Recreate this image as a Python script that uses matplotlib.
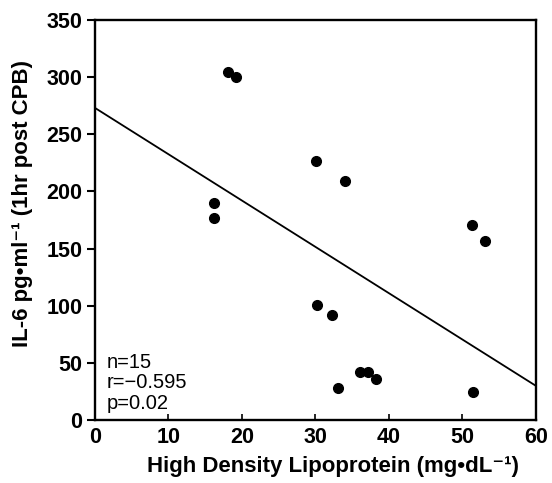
import numpy as np
import matplotlib.pyplot as plt

plt.rcParams['font.family'] = ['Liberation Sans', 'DejaVu Sans']

# HDL (mg/dL) vs IL-6 (pg/ml, 1hr post CPB)
hdl = [18.1, 19.2, 16.2, 16.2, 30.1, 34.0, 51.3, 53.1, 30.2, 32.2,
       33.1, 36.1, 37.1, 38.2, 51.4]
il6 = [304, 300, 190, 177, 227, 209, 171, 157, 101, 92,
       28, 42, 42, 36, 25]

# regression line end points
fit_x = [0, 60]
fit_y = [273, 30]

stats = ['n=15', 'r=\u22120.595', 'p=0.02']

fig = plt.figure(figsize=(5.52, 4.83), dpi=100)
ax = fig.add_axes([0.172, 0.130, 0.799, 0.829])

ax.plot(hdl, il6, 'o', color='black', ms=7, zorder=3)
ax.plot(fit_x, fit_y, color='black', lw=1.3)

ax.set_xlim(0, 60)
ax.set_ylim(0, 350)
ax.set_xticks(np.arange(0, 61, 10))
ax.set_yticks(np.arange(0, 351, 50))

for s in ax.spines.values():
    s.set_linewidth(1.7)

ax.tick_params(axis='y', direction='out', length=6, width=1.5, pad=3,
               labelsize=15.5)
ax.tick_params(axis='x', direction='in', length=4, width=1.2, pad=5,
               labelsize=15.5)
for lab in ax.get_xticklabels() + ax.get_yticklabels():
    lab.set_fontweight('bold')

ax.set_xlabel('High Density Lipoprotein (mg\u2022dL\u207b\u00b9)',
              fontsize=16, fontweight='bold', labelpad=6)
ax.xaxis.label.set_x(0.54)
ax.set_ylabel('IL-6 pg\u2022ml\u207b\u00b9 (1hr post CPB)',
              fontsize=16, fontweight='bold')
ax.yaxis.set_label_coords(-0.14, 0.54)

for i, t in enumerate(stats):
    ax.text(0.027, 0.145 - i * 0.052, t, transform=ax.transAxes,
            fontsize=14.5, va='center', ha='left')

fig.savefig('out.png', dpi=100)
